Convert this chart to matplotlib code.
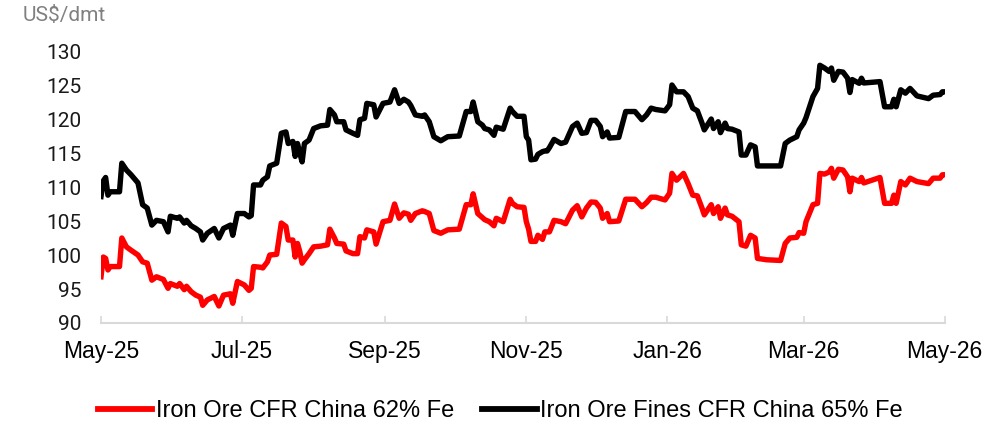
import matplotlib
matplotlib.use("Agg")
import matplotlib.pyplot as plt
import matplotlib.dates as mdates
import pandas as pd

dates = [
    "2025-05-01", "2025-05-02", "2025-05-03", "2025-05-04", "2025-05-05", "2025-05-09", "2025-05-10",
    "2025-05-12", "2025-05-14", "2025-05-17", "2025-05-19", "2025-05-21", "2025-05-23", "2025-05-25",
    "2025-05-28", "2025-05-30", "2025-05-31", "2025-06-03", "2025-06-04", "2025-06-06", "2025-06-07",
    "2025-06-09", "2025-06-11", "2025-06-13", "2025-06-14", "2025-06-16", "2025-06-19", "2025-06-21",
    "2025-06-23", "2025-06-26", "2025-06-27", "2025-06-29", "2025-07-02", "2025-07-04", "2025-07-05",
    "2025-07-06", "2025-07-09", "2025-07-10", "2025-07-12", "2025-07-13", "2025-07-16", "2025-07-18",
    "2025-07-20", "2025-07-21", "2025-07-23", "2025-07-24", "2025-07-25", "2025-07-26", "2025-07-27",
    "2025-07-28", "2025-07-30", "2025-08-01", "2025-08-04", "2025-08-07", "2025-08-08", "2025-08-10",
    "2025-08-11", "2025-08-14", "2025-08-15", "2025-08-18", "2025-08-20", "2025-08-21", "2025-08-23",
    "2025-08-24", "2025-08-27", "2025-08-28", "2025-08-31", "2025-09-03", "2025-09-05", "2025-09-07",
    "2025-09-09", "2025-09-11", "2025-09-12", "2025-09-14", "2025-09-17", "2025-09-18", "2025-09-20",
    "2025-09-22", "2025-09-25", "2025-09-28", "2025-10-03", "2025-10-06", "2025-10-08", "2025-10-09",
    "2025-10-11", "2025-10-13", "2025-10-14", "2025-10-16", "2025-10-18", "2025-10-19", "2025-10-22",
    "2025-10-25", "2025-10-26", "2025-10-28", "2025-10-31", "2025-11-01", "2025-11-02", "2025-11-03",
    "2025-11-05", "2025-11-06", "2025-11-08", "2025-11-09", "2025-11-10", "2025-11-11", "2025-11-13",
    "2025-11-16", "2025-11-18", "2025-11-21", "2025-11-23", "2025-11-25", "2025-11-27", "2025-11-29",
    "2025-12-01", "2025-12-03", "2025-12-04", "2025-12-06", "2025-12-07", "2025-12-11", "2025-12-14",
    "2025-12-18", "2025-12-21", "2025-12-23", "2025-12-25", "2025-12-27", "2025-12-31", "2026-01-02",
    "2026-01-03", "2026-01-05", "2026-01-08", "2026-01-10", "2026-01-12", "2026-01-14", "2026-01-16",
    "2026-01-17", "2026-01-20", "2026-01-21", "2026-01-23", "2026-01-24", "2026-01-26", "2026-01-27",
    "2026-01-29", "2026-02-01", "2026-02-02", "2026-02-04", "2026-02-06", "2026-02-08", "2026-02-09",
    "2026-02-13", "2026-02-19", "2026-02-21", "2026-02-23", "2026-02-26", "2026-02-27", "2026-03-01",
    "2026-03-02", "2026-03-05", "2026-03-07", "2026-03-08", "2026-03-10", "2026-03-12", "2026-03-13",
    "2026-03-14", "2026-03-16", "2026-03-18", "2026-03-20", "2026-03-21", "2026-03-22", "2026-03-25",
    "2026-03-26", "2026-03-27", "2026-04-03", "2026-04-05", "2026-04-08", "2026-04-09", "2026-04-10",
    "2026-04-12", "2026-04-14", "2026-04-16", "2026-04-19", "2026-04-24", "2026-04-26", "2026-04-29",
    "2026-04-30", "2026-05-01",
]

fe65 = [
    108.6, 110.9, 111.4, 108.8, 109.3, 109.3, 113.5,
    112.5, 111.8, 110.6, 107.4, 106.9, 104.4, 105.1,
    104.9, 103.4, 105.7, 105.4, 105.6, 104.7, 105.1,
    104.3, 103.9, 103.4, 102.2, 103.2, 103.9, 102.5,
    103.9, 104.4, 102.9, 106.1, 106.1, 105.6, 105.8,
    110.3, 110.3, 111.0, 111.5, 113.1, 113.5, 117.9,
    118.1, 116.4, 116.7, 114.5, 116.4, 115.0, 113.7,
    116.4, 116.9, 118.6, 119.0, 119.1, 121.4, 120.6,
    119.6, 119.6, 118.4, 117.9, 117.6, 119.9, 120.1,
    122.3, 122.1, 120.3, 122.3, 122.5, 124.3, 122.3,
    122.9, 122.5, 122.0, 120.6, 120.4, 120.6, 119.6,
    117.4, 116.8, 117.4, 117.5, 121.1, 121.1, 122.5,
    119.6, 119.1, 118.6, 118.4, 117.6, 118.8, 118.5,
    121.6, 121.1, 120.4, 120.4, 117.4, 116.9, 114.0,
    114.1, 114.8, 115.2, 115.3, 115.3, 115.8, 117.0,
    116.4, 116.6, 118.9, 119.4, 117.9, 118.0, 119.8,
    119.8, 118.9, 117.4, 118.1, 117.2, 117.3, 121.1,
    121.1, 119.9, 120.6, 121.6, 121.4, 121.2, 122.1,
    125.0, 124.0, 124.0, 123.3, 121.6, 121.2, 119.4,
    118.4, 120.0, 118.6, 119.6, 118.0, 119.4, 118.6,
    118.5, 118.1, 114.7, 114.7, 116.2, 115.9, 113.1,
    113.1, 113.1, 116.4, 116.9, 117.4, 118.4, 119.4,
    120.2, 123.3, 124.5, 127.9, 127.5, 127.0, 127.5,
    125.7, 127.0, 126.9, 126.0, 123.9, 125.8, 125.25,
    126.0, 125.3, 125.5, 121.8, 121.8, 122.9, 121.8,
    124.3, 123.8, 124.5, 123.4, 123.0, 123.5, 123.6,
    124.0, 124.0,
]

fe62 = [
    96.8, 99.7, 99.5, 97.8, 98.3, 98.3, 102.5,
    101.2, 100.7, 100.0, 99.0, 98.8, 96.3, 96.8,
    96.4, 95.1, 95.8, 95.4, 95.8, 94.9, 95.4,
    94.6, 94.1, 93.8, 92.6, 93.4, 93.9, 92.5,
    94.1, 94.3, 92.9, 96.1, 95.6, 94.8, 95.1,
    98.3, 98.2, 98.1, 99.0, 100.0, 100.1, 104.7,
    104.2, 102.2, 102.2, 99.7, 101.7, 100.5, 98.8,
    99.3, 100.2, 101.2, 101.3, 101.5, 103.8, 102.5,
    101.7, 101.6, 100.6, 100.2, 100.2, 102.7, 102.5,
    103.7, 103.4, 101.6, 104.9, 105.1, 107.5, 105.4,
    106.2, 106.0, 105.1, 106.1, 106.5, 106.4, 106.1,
    103.6, 103.2, 103.7, 103.8, 107.4, 107.4, 109.0,
    106.1, 105.5, 105.2, 104.9, 104.3, 105.4, 104.9,
    108.2, 107.6, 107.1, 107.0, 104.9, 103.8, 102.0,
    102.0, 102.9, 102.3, 103.4, 103.4, 103.4, 105.1,
    104.9, 104.6, 106.6, 107.25, 105.6, 106.9, 107.8,
    107.75, 106.9, 105.4, 106.1, 104.9, 105.0, 108.2,
    108.2, 107.1, 107.7, 108.5, 108.5, 108.1, 109.1,
    112.0, 111.0, 112.0, 110.5, 108.8, 108.7, 106.9,
    105.9, 107.4, 106.1, 107.1, 105.4, 106.9, 105.9,
    105.7, 104.9, 101.5, 101.3, 102.9, 102.5, 99.5,
    99.3, 99.2, 101.7, 102.5, 102.6, 103.3, 103.2,
    104.9, 107.4, 107.6, 112.0, 111.9, 112.2, 112.75,
    111.3, 112.6, 112.5, 111.5, 109.3, 111.3, 110.8,
    111.4, 110.6, 111.4, 107.6, 107.6, 108.8, 107.6,
    110.8, 110.3, 111.3, 110.8, 110.5, 111.3, 111.3,
    111.8, 111.8,
]

series_names = ["Iron Ore CFR China 62% Fe", "Iron Ore Fines CFR China 65% Fe"]
series_colors = ["#FF0000", "#000000"]
y_ticks = [90, 95, 100, 105, 110, 115, 120, 125, 130]
x_tick_dates = ["2025-05-01", "2025-07-01", "2025-09-01", "2025-11-01",
                "2026-01-01", "2026-03-01", "2026-05-01"]
unit_label = "US$/dmt"

x = pd.to_datetime(dates)

fig = plt.figure(figsize=(10.05, 4.22), dpi=100)
ax = fig.add_axes([0.1005, 0.2346, 0.8395, 0.6445])

for vals, name, col in zip([fe62, fe65], series_names, series_colors):
    ax.plot(x, vals, color=col, lw=3.9, label=name, solid_joinstyle="round")

ax.set_ylim(90, 130)
ax.set_xlim(pd.Timestamp(x_tick_dates[0]), pd.Timestamp(x_tick_dates[-1]))
ax.set_yticks(y_ticks)
ax.set_xticks(pd.to_datetime(x_tick_dates))
ax.xaxis.set_major_formatter(mdates.DateFormatter("%b-%y"))

for s in ["top", "right", "left"]:
    ax.spines[s].set_visible(False)
ax.spines["bottom"].set_color("#d9d9d9")
ax.spines["bottom"].set_linewidth(1.5)

ax.tick_params(axis="y", length=0, pad=14, labelsize=15, labelcolor="#1a1a1a")
ax.tick_params(axis="x", direction="in", length=5, width=1.2, color="#d9d9d9",
               pad=12, labelsize=16.5, labelcolor="#000000")
for lab in ax.get_yticklabels():
    lab.set_fontfamily("Roboto")
for lab in ax.get_xticklabels():
    lab.set_fontfamily("Liberation Sans")

fig.text(0.0226, 0.985, unit_label, ha="left", va="top", fontsize=15,
         color="#808080", family="Roboto")

leg = fig.legend(loc="lower center", bbox_to_anchor=(0.498, -0.05), ncol=2, frameon=False,
                 prop={"family": "Liberation Sans", "size": 17},
                 handlelength=2.3, handletextpad=0.15, columnspacing=1.2)
for line in leg.get_lines():
    line.set_linewidth(4.2)

fig.savefig("out.png", dpi=100)
